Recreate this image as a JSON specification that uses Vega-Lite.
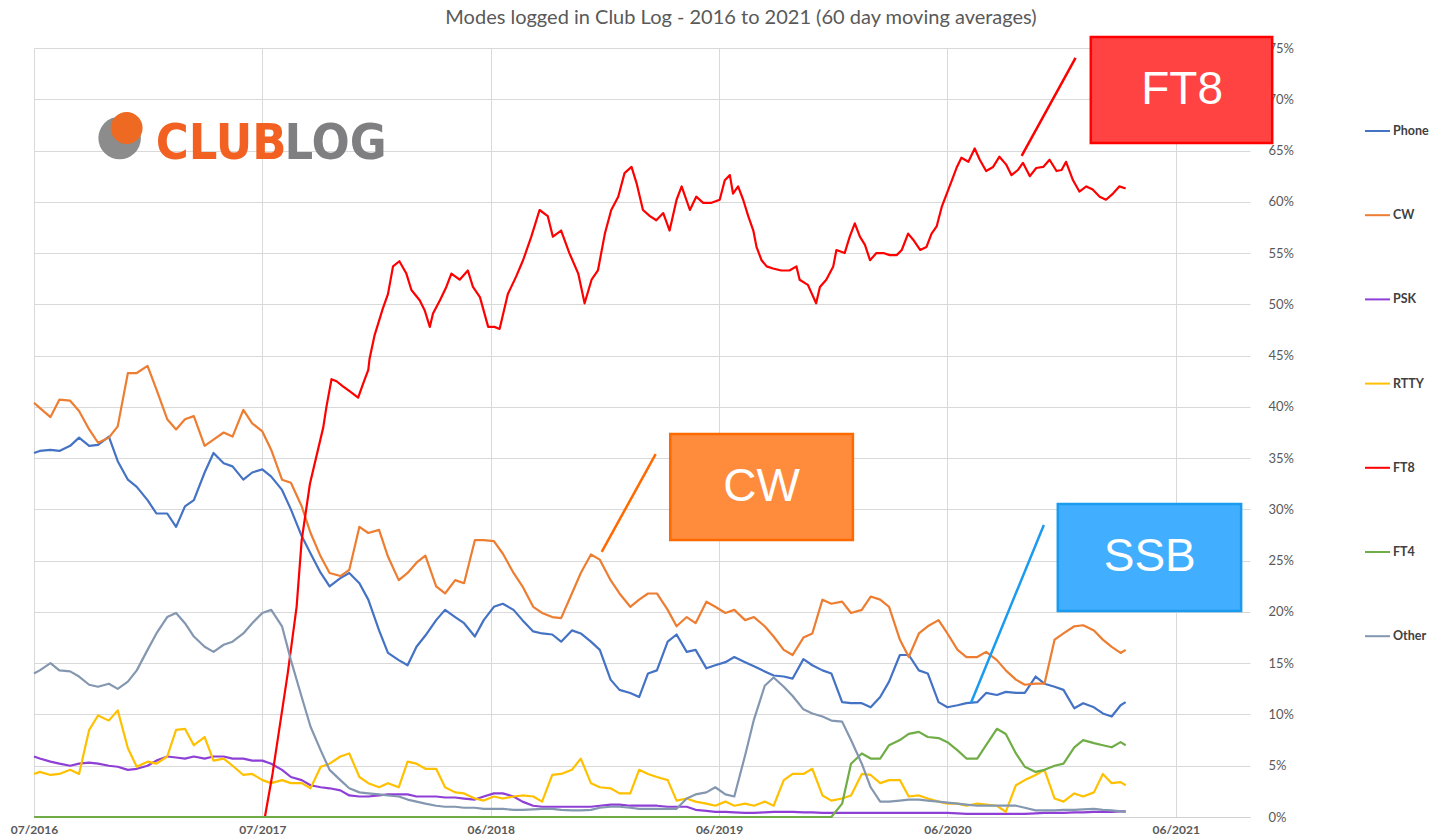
{
  "$schema": "https://vega.github.io/schema/vega-lite/v6.json",
  "width": 1216,
  "height": 769,
  "autosize": {"type": "none"},
  "padding": {"left": 34, "top": 48, "right": 186, "bottom": 23},
  "background": "white",
  "config": {"view": {"stroke": null}, "font": "Lato"},
  "title": {
    "text": "Modes logged in Club Log - 2016 to 2021 (60 day moving averages)",
    "font": "Lato", "fontSize": 20, "fontWeight": "normal", "color": "#595959",
    "anchor": "middle", "frame": "group", "dx": 99, "offset": 8
  },
  "datasets": {
    "modes": [
      {"d":"2016-07-06","Phone":35.5,"CW":40.4,"PSK":5.9,"RTTY":4.2,"FT4":0,"Other":14.0},
      {"d":"2016-07-15","Phone":35.7,"CW":39.9,"PSK":5.7,"RTTY":4.4,"FT4":0,"Other":14.3},
      {"d":"2016-08-01","Phone":35.8,"CW":39.0,"PSK":5.4,"RTTY":4.1,"FT4":0,"Other":15.0},
      {"d":"2016-08-15","Phone":35.7,"CW":40.7,"PSK":5.2,"RTTY":4.2,"FT4":0,"Other":14.3},
      {"d":"2016-09-01","Phone":36.2,"CW":40.6,"PSK":5.0,"RTTY":4.6,"FT4":0,"Other":14.2},
      {"d":"2016-09-15","Phone":37.0,"CW":39.6,"PSK":5.2,"RTTY":4.2,"FT4":0,"Other":13.7},
      {"d":"2016-10-01","Phone":36.2,"CW":37.8,"PSK":5.3,"RTTY":8.5,"FT4":0,"Other":12.9},
      {"d":"2016-10-15","Phone":36.3,"CW":36.5,"PSK":5.2,"RTTY":9.9,"FT4":0,"Other":12.7},
      {"d":"2016-11-01","Phone":37.1,"CW":37.0,"PSK":5.0,"RTTY":9.4,"FT4":0,"Other":13.0},
      {"d":"2016-11-15","Phone":34.7,"CW":38.1,"PSK":4.9,"RTTY":10.4,"FT4":0,"Other":12.5},
      {"d":"2016-12-01","Phone":32.9,"CW":43.3,"PSK":4.6,"RTTY":6.7,"FT4":0,"Other":13.2},
      {"d":"2016-12-15","Phone":32.2,"CW":43.3,"PSK":4.7,"RTTY":4.9,"FT4":0,"Other":14.3},
      {"d":"2017-01-01","Phone":30.9,"CW":44.0,"PSK":5.0,"RTTY":5.4,"FT4":0,"Other":16.3},
      {"d":"2017-01-15","Phone":29.6,"CW":41.7,"PSK":5.5,"RTTY":5.2,"FT4":0,"Other":17.9},
      {"d":"2017-02-01","Phone":29.6,"CW":38.8,"PSK":5.9,"RTTY":5.9,"FT4":0,"Other":19.5},
      {"d":"2017-02-15","Phone":28.3,"CW":37.8,"PSK":5.8,"RTTY":8.5,"FT4":0,"Other":19.9},
      {"d":"2017-03-01","Phone":30.3,"CW":38.8,"PSK":5.7,"RTTY":8.6,"FT4":0,"Other":18.9},
      {"d":"2017-03-15","Phone":30.9,"CW":39.1,"PSK":5.9,"RTTY":7.0,"FT4":0,"Other":17.6},
      {"d":"2017-04-01","Phone":33.6,"CW":36.2,"PSK":5.7,"RTTY":7.8,"FT4":0,"Other":16.6},
      {"d":"2017-04-15","Phone":35.5,"CW":36.8,"PSK":5.9,"RTTY":5.5,"FT4":0,"Other":16.1},
      {"d":"2017-05-01","Phone":34.5,"CW":37.5,"PSK":5.9,"RTTY":5.7,"FT4":0,"Other":16.8},
      {"d":"2017-05-15","Phone":34.2,"CW":37.1,"PSK":5.7,"RTTY":5.0,"FT4":0,"Other":17.1},
      {"d":"2017-06-01","Phone":32.9,"CW":39.7,"PSK":5.7,"RTTY":4.1,"FT4":0,"Other":17.9},
      {"d":"2017-06-15","Phone":33.6,"CW":38.4,"PSK":5.5,"RTTY":4.2,"FT4":0,"Other":18.9},
      {"d":"2017-07-01","Phone":33.9,"CW":37.6,"PSK":5.5,"RTTY":3.6,"FT4":0,"Other":19.9},
      {"d":"2017-07-15","Phone":33.2,"CW":35.8,"PSK":5.2,"RTTY":3.3,"FT4":0,"Other":20.2},
      {"d":"2017-08-01","Phone":31.9,"CW":32.9,"PSK":4.6,"RTTY":3.6,"FT4":0,"Other":18.6},
      {"d":"2017-08-15","Phone":30.0,"CW":32.6,"PSK":3.9,"RTTY":3.3,"FT4":0,"Other":15.3},
      {"d":"2017-09-01","Phone":27.4,"CW":30.3,"PSK":3.6,"RTTY":3.3,"FT4":0,"Other":11.7},
      {"d":"2017-09-15","Phone":25.7,"CW":27.7,"PSK":3.1,"RTTY":2.8,"FT4":0,"Other":8.8},
      {"d":"2017-10-01","Phone":23.8,"CW":25.4,"PSK":2.9,"RTTY":4.9,"FT4":0,"Other":6.5},
      {"d":"2017-10-15","Phone":22.5,"CW":23.8,"PSK":2.8,"RTTY":5.2,"FT4":0,"Other":4.6},
      {"d":"2017-11-01","Phone":23.3,"CW":23.5,"PSK":2.6,"RTTY":5.9,"FT4":0,"Other":3.6},
      {"d":"2017-11-15","Phone":23.8,"CW":24.1,"PSK":2.1,"RTTY":6.2,"FT4":0,"Other":2.8},
      {"d":"2017-12-01","Phone":22.8,"CW":28.3,"PSK":2.0,"RTTY":3.9,"FT4":0,"Other":2.4},
      {"d":"2017-12-15","Phone":21.2,"CW":27.7,"PSK":2.0,"RTTY":3.3,"FT4":0,"Other":2.3},
      {"d":"2018-01-01","Phone":18.2,"CW":28.0,"PSK":2.1,"RTTY":2.9,"FT4":0,"Other":2.2},
      {"d":"2018-01-15","Phone":16.0,"CW":25.4,"PSK":2.2,"RTTY":3.3,"FT4":0,"Other":2.1},
      {"d":"2018-02-01","Phone":15.3,"CW":23.1,"PSK":2.2,"RTTY":2.9,"FT4":0,"Other":2.0},
      {"d":"2018-02-15","Phone":14.8,"CW":23.8,"PSK":2.2,"RTTY":5.4,"FT4":0,"Other":1.7},
      {"d":"2018-03-01","Phone":16.6,"CW":24.8,"PSK":2.0,"RTTY":5.2,"FT4":0,"Other":1.5},
      {"d":"2018-03-15","Phone":17.7,"CW":25.5,"PSK":2.0,"RTTY":4.7,"FT4":0,"Other":1.3},
      {"d":"2018-04-01","Phone":19.2,"CW":22.5,"PSK":2.0,"RTTY":4.7,"FT4":0,"Other":1.1},
      {"d":"2018-04-15","Phone":20.2,"CW":21.8,"PSK":1.9,"RTTY":2.9,"FT4":0,"Other":1.0},
      {"d":"2018-05-01","Phone":19.5,"CW":23.1,"PSK":1.9,"RTTY":2.4,"FT4":0,"Other":1.0},
      {"d":"2018-05-15","Phone":18.9,"CW":22.8,"PSK":1.8,"RTTY":2.3,"FT4":0,"Other":0.9},
      {"d":"2018-06-01","Phone":17.6,"CW":27.0,"PSK":1.7,"RTTY":1.8,"FT4":0,"Other":0.9},
      {"d":"2018-06-15","Phone":19.2,"CW":27.0,"PSK":2.0,"RTTY":1.6,"FT4":0,"Other":0.8},
      {"d":"2018-07-01","Phone":20.5,"CW":26.9,"PSK":2.3,"RTTY":2.0,"FT4":0,"Other":0.8},
      {"d":"2018-07-15","Phone":20.8,"CW":25.7,"PSK":2.3,"RTTY":1.8,"FT4":0,"Other":0.8},
      {"d":"2018-08-01","Phone":20.2,"CW":23.8,"PSK":2.0,"RTTY":2.0,"FT4":0,"Other":0.7},
      {"d":"2018-08-15","Phone":19.2,"CW":22.5,"PSK":1.5,"RTTY":2.1,"FT4":0,"Other":0.7},
      {"d":"2018-09-01","Phone":18.1,"CW":20.5,"PSK":1.1,"RTTY":2.0,"FT4":0,"Other":0.75},
      {"d":"2018-09-15","Phone":17.9,"CW":19.9,"PSK":1.0,"RTTY":1.5,"FT4":0,"Other":0.8},
      {"d":"2018-10-01","Phone":17.8,"CW":19.5,"PSK":1.0,"RTTY":4.1,"FT4":0,"Other":0.8},
      {"d":"2018-10-15","Phone":17.1,"CW":19.4,"PSK":1.0,"RTTY":4.2,"FT4":0,"Other":0.7},
      {"d":"2018-11-01","Phone":18.2,"CW":21.8,"PSK":1.0,"RTTY":4.6,"FT4":0,"Other":0.65},
      {"d":"2018-11-15","Phone":17.9,"CW":23.8,"PSK":1.0,"RTTY":5.7,"FT4":0,"Other":0.65},
      {"d":"2018-12-01","Phone":17.1,"CW":25.6,"PSK":1.0,"RTTY":3.3,"FT4":0,"Other":0.7},
      {"d":"2018-12-15","Phone":16.3,"CW":25.1,"PSK":1.1,"RTTY":2.9,"FT4":0,"Other":0.9},
      {"d":"2019-01-01","Phone":13.4,"CW":23.1,"PSK":1.2,"RTTY":2.8,"FT4":0,"Other":1.0},
      {"d":"2019-01-15","Phone":12.4,"CW":21.8,"PSK":1.2,"RTTY":2.3,"FT4":0,"Other":1.0},
      {"d":"2019-02-01","Phone":12.1,"CW":20.5,"PSK":1.1,"RTTY":2.3,"FT4":0,"Other":0.9},
      {"d":"2019-02-15","Phone":11.7,"CW":21.2,"PSK":1.1,"RTTY":4.6,"FT4":0,"Other":0.8},
      {"d":"2019-03-01","Phone":14.0,"CW":21.8,"PSK":1.1,"RTTY":4.2,"FT4":0,"Other":0.8},
      {"d":"2019-03-15","Phone":14.3,"CW":21.8,"PSK":1.1,"RTTY":3.9,"FT4":0,"Other":0.8},
      {"d":"2019-04-01","Phone":17.1,"CW":20.2,"PSK":1.0,"RTTY":3.6,"FT4":0,"Other":0.8},
      {"d":"2019-04-15","Phone":17.8,"CW":18.6,"PSK":1.0,"RTTY":1.6,"FT4":0,"Other":0.8},
      {"d":"2019-05-01","Phone":16.1,"CW":19.5,"PSK":1.0,"RTTY":1.8,"FT4":0,"Other":1.8},
      {"d":"2019-05-15","Phone":16.3,"CW":18.9,"PSK":0.7,"RTTY":1.5,"FT4":0,"Other":2.2},
      {"d":"2019-06-01","Phone":14.5,"CW":21.0,"PSK":0.6,"RTTY":1.3,"FT4":0,"Other":2.4},
      {"d":"2019-06-15","Phone":14.8,"CW":20.5,"PSK":0.5,"RTTY":1.1,"FT4":0,"Other":2.9},
      {"d":"2019-07-01","Phone":15.1,"CW":19.9,"PSK":0.5,"RTTY":1.5,"FT4":0,"Other":2.2},
      {"d":"2019-07-15","Phone":15.6,"CW":20.2,"PSK":0.45,"RTTY":1.1,"FT4":0,"Other":2.0},
      {"d":"2019-08-01","Phone":15.1,"CW":19.2,"PSK":0.4,"RTTY":1.3,"FT4":0,"Other":6.0},
      {"d":"2019-08-15","Phone":14.7,"CW":19.5,"PSK":0.4,"RTTY":1.1,"FT4":0,"Other":9.5},
      {"d":"2019-09-01","Phone":14.2,"CW":18.6,"PSK":0.45,"RTTY":1.5,"FT4":0,"Other":12.8},
      {"d":"2019-09-15","Phone":13.8,"CW":17.6,"PSK":0.5,"RTTY":1.1,"FT4":0,"Other":13.6},
      {"d":"2019-10-01","Phone":13.7,"CW":16.3,"PSK":0.5,"RTTY":3.6,"FT4":0,"Other":12.7},
      {"d":"2019-10-15","Phone":13.5,"CW":15.8,"PSK":0.5,"RTTY":4.2,"FT4":0,"Other":11.8},
      {"d":"2019-11-01","Phone":15.4,"CW":17.5,"PSK":0.45,"RTTY":4.2,"FT4":0,"Other":10.5},
      {"d":"2019-11-15","Phone":14.8,"CW":17.9,"PSK":0.45,"RTTY":4.7,"FT4":0,"Other":10.1},
      {"d":"2019-12-01","Phone":14.3,"CW":21.2,"PSK":0.4,"RTTY":2.1,"FT4":0,"Other":9.8},
      {"d":"2019-12-15","Phone":14.0,"CW":20.8,"PSK":0.4,"RTTY":1.6,"FT4":0,"Other":9.4},
      {"d":"2020-01-01","Phone":11.2,"CW":21.0,"PSK":0.4,"RTTY":1.8,"FT4":1.3,"Other":9.3},
      {"d":"2020-01-15","Phone":11.1,"CW":19.9,"PSK":0.4,"RTTY":2.1,"FT4":5.2,"Other":7.5},
      {"d":"2020-02-01","Phone":11.1,"CW":20.2,"PSK":0.4,"RTTY":4.2,"FT4":6.2,"Other":5.2},
      {"d":"2020-02-15","Phone":10.7,"CW":21.5,"PSK":0.4,"RTTY":4.1,"FT4":5.7,"Other":2.9},
      {"d":"2020-03-01","Phone":11.7,"CW":21.2,"PSK":0.4,"RTTY":3.3,"FT4":5.7,"Other":1.5},
      {"d":"2020-03-15","Phone":13.2,"CW":20.5,"PSK":0.4,"RTTY":3.6,"FT4":7.0,"Other":1.5},
      {"d":"2020-04-01","Phone":15.8,"CW":17.3,"PSK":0.4,"RTTY":3.6,"FT4":7.5,"Other":1.6},
      {"d":"2020-04-15","Phone":15.8,"CW":15.6,"PSK":0.4,"RTTY":2.0,"FT4":8.1,"Other":1.7},
      {"d":"2020-05-01","Phone":14.3,"CW":17.9,"PSK":0.4,"RTTY":2.1,"FT4":8.3,"Other":1.7},
      {"d":"2020-05-15","Phone":14.0,"CW":18.6,"PSK":0.4,"RTTY":1.8,"FT4":7.8,"Other":1.6},
      {"d":"2020-06-01","Phone":11.2,"CW":19.2,"PSK":0.4,"RTTY":1.5,"FT4":7.7,"Other":1.5},
      {"d":"2020-06-15","Phone":10.7,"CW":17.9,"PSK":0.4,"RTTY":1.3,"FT4":7.3,"Other":1.4},
      {"d":"2020-07-01","Phone":10.9,"CW":16.3,"PSK":0.35,"RTTY":1.3,"FT4":6.5,"Other":1.3},
      {"d":"2020-07-15","Phone":11.1,"CW":15.6,"PSK":0.3,"RTTY":1.1,"FT4":5.7,"Other":1.2},
      {"d":"2020-08-01","Phone":11.2,"CW":15.6,"PSK":0.3,"RTTY":1.3,"FT4":5.7,"Other":1.1},
      {"d":"2020-08-15","Phone":12.1,"CW":16.1,"PSK":0.3,"RTTY":1.2,"FT4":7.0,"Other":1.1},
      {"d":"2020-09-01","Phone":11.9,"CW":15.3,"PSK":0.3,"RTTY":1.1,"FT4":8.6,"Other":1.1},
      {"d":"2020-09-15","Phone":12.2,"CW":14.3,"PSK":0.3,"RTTY":0.5,"FT4":8.1,"Other":1.1},
      {"d":"2020-10-01","Phone":12.1,"CW":13.4,"PSK":0.3,"RTTY":3.1,"FT4":6.2,"Other":1.1},
      {"d":"2020-10-15","Phone":12.1,"CW":12.9,"PSK":0.3,"RTTY":3.6,"FT4":4.9,"Other":0.9},
      {"d":"2020-11-01","Phone":13.7,"CW":13.0,"PSK":0.35,"RTTY":4.1,"FT4":4.4,"Other":0.65},
      {"d":"2020-11-15","Phone":13.0,"CW":13.0,"PSK":0.4,"RTTY":4.6,"FT4":4.6,"Other":0.65},
      {"d":"2020-12-01","Phone":12.7,"CW":17.3,"PSK":0.4,"RTTY":1.8,"FT4":5.0,"Other":0.65},
      {"d":"2020-12-15","Phone":12.4,"CW":17.9,"PSK":0.4,"RTTY":1.5,"FT4":5.2,"Other":0.7},
      {"d":"2021-01-01","Phone":10.6,"CW":18.6,"PSK":0.45,"RTTY":2.3,"FT4":6.8,"Other":0.7},
      {"d":"2021-01-15","Phone":11.1,"CW":18.7,"PSK":0.45,"RTTY":2.0,"FT4":7.5,"Other":0.75},
      {"d":"2021-02-01","Phone":10.7,"CW":18.2,"PSK":0.5,"RTTY":2.4,"FT4":7.2,"Other":0.8},
      {"d":"2021-02-15","Phone":10.1,"CW":17.3,"PSK":0.5,"RTTY":4.2,"FT4":7.0,"Other":0.7},
      {"d":"2021-03-01","Phone":9.8,"CW":16.6,"PSK":0.5,"RTTY":3.3,"FT4":6.8,"Other":0.65},
      {"d":"2021-03-15","Phone":10.9,"CW":16.0,"PSK":0.55,"RTTY":3.4,"FT4":7.3,"Other":0.55},
      {"d":"2021-03-23","Phone":11.2,"CW":16.3,"PSK":0.55,"RTTY":3.1,"FT4":7.0,"Other":0.5}
    ],
    "ft8": [
      {"d":"2016-07-06","v":0},{"d":"2017-07-05","v":0},{"d":"2017-07-17","v":4.2},{"d":"2017-08-10","v":14},
      {"d":"2017-08-24","v":20.5},{"d":"2017-09-01","v":27},{"d":"2017-09-14","v":32.5},{"d":"2017-10-05","v":38},
      {"d":"2017-10-10","v":40},{"d":"2017-10-18","v":42.7},{"d":"2017-10-26","v":42.5},{"d":"2017-11-05","v":42.0},
      {"d":"2017-11-16","v":41.5},{"d":"2017-11-29","v":40.9},{"d":"2017-12-07","v":42.3},{"d":"2017-12-15","v":43.6},
      {"d":"2017-12-17","v":44.7},{"d":"2017-12-25","v":47.0},{"d":"2018-01-07","v":49.6},{"d":"2018-01-15","v":51.0},
      {"d":"2018-01-23","v":53.7},{"d":"2018-02-02","v":54.2},{"d":"2018-02-13","v":53.0},{"d":"2018-02-21","v":51.4},
      {"d":"2018-03-06","v":50.4},{"d":"2018-03-14","v":49.4},{"d":"2018-03-22","v":47.8},{"d":"2018-03-27","v":49.1},
      {"d":"2018-04-07","v":50.4},{"d":"2018-04-17","v":51.7},{"d":"2018-04-25","v":53.0},{"d":"2018-05-08","v":52.4},
      {"d":"2018-05-21","v":53.3},{"d":"2018-05-29","v":51.7},{"d":"2018-06-09","v":50.7},{"d":"2018-06-22","v":47.8},
      {"d":"2018-07-02","v":47.8},{"d":"2018-07-10","v":47.6},{"d":"2018-07-23","v":51.0},{"d":"2018-08-05","v":52.7},
      {"d":"2018-08-16","v":54.3},{"d":"2018-08-29","v":56.6},{"d":"2018-09-11","v":59.2},{"d":"2018-09-24","v":58.6},
      {"d":"2018-10-02","v":56.6},{"d":"2018-10-15","v":57.2},{"d":"2018-10-28","v":55.0},{"d":"2018-11-11","v":53.0},
      {"d":"2018-11-21","v":50.1},{"d":"2018-12-02","v":52.4},{"d":"2018-12-12","v":53.3},{"d":"2018-12-23","v":56.9},
      {"d":"2019-01-02","v":59.2},{"d":"2019-01-13","v":60.5},{"d":"2019-01-23","v":62.8},{"d":"2019-02-03","v":63.4},
      {"d":"2019-02-11","v":61.8},{"d":"2019-02-21","v":59.2},{"d":"2019-03-04","v":58.6},{"d":"2019-03-14","v":58.2},
      {"d":"2019-03-25","v":58.9},{"d":"2019-04-04","v":57.2},{"d":"2019-04-15","v":60.2},{"d":"2019-04-23","v":61.5},
      {"d":"2019-05-06","v":59.2},{"d":"2019-05-16","v":60.5},{"d":"2019-05-27","v":59.9},{"d":"2019-06-09","v":59.9},
      {"d":"2019-06-22","v":60.2},{"d":"2019-06-30","v":62.1},{"d":"2019-07-08","v":62.6},{"d":"2019-07-13","v":60.8},
      {"d":"2019-07-21","v":61.5},{"d":"2019-07-29","v":60.2},{"d":"2019-08-06","v":58.6},{"d":"2019-08-14","v":57.2},
      {"d":"2019-08-19","v":55.6},{"d":"2019-08-27","v":54.3},{"d":"2019-09-04","v":53.7},{"d":"2019-09-14","v":53.5},
      {"d":"2019-09-27","v":53.3},{"d":"2019-10-10","v":53.3},{"d":"2019-10-21","v":53.7},{"d":"2019-10-26","v":52.4},
      {"d":"2019-11-08","v":51.9},{"d":"2019-11-21","v":50.1},{"d":"2019-11-27","v":51.7},{"d":"2019-12-07","v":52.4},
      {"d":"2019-12-18","v":53.7},{"d":"2019-12-23","v":55.3},{"d":"2020-01-05","v":55.0},{"d":"2020-01-13","v":56.6},
      {"d":"2020-01-21","v":57.9},{"d":"2020-01-29","v":56.6},{"d":"2020-02-06","v":55.8},{"d":"2020-02-14","v":54.3},
      {"d":"2020-02-24","v":55.0},{"d":"2020-03-06","v":55.0},{"d":"2020-03-16","v":54.8},{"d":"2020-03-27","v":54.8},
      {"d":"2020-04-04","v":55.3},{"d":"2020-04-14","v":56.9},{"d":"2020-04-22","v":56.3},{"d":"2020-05-03","v":55.3},
      {"d":"2020-05-13","v":55.6},{"d":"2020-05-21","v":56.9},{"d":"2020-05-29","v":57.6},{"d":"2020-06-06","v":59.5},
      {"d":"2020-06-14","v":60.8},{"d":"2020-06-22","v":62.1},{"d":"2020-06-30","v":63.4},{"d":"2020-07-07","v":64.3},
      {"d":"2020-07-18","v":63.9},{"d":"2020-07-28","v":65.2},{"d":"2020-08-05","v":64.1},{"d":"2020-08-15","v":63.0},
      {"d":"2020-08-26","v":63.4},{"d":"2020-09-05","v":64.4},{"d":"2020-09-16","v":63.6},{"d":"2020-09-24","v":62.6},
      {"d":"2020-10-04","v":63.1},{"d":"2020-10-12","v":63.8},{"d":"2020-10-23","v":62.5},{"d":"2020-11-02","v":63.3},
      {"d":"2020-11-13","v":63.4},{"d":"2020-11-23","v":64.1},{"d":"2020-12-04","v":63.0},{"d":"2020-12-12","v":63.1},
      {"d":"2020-12-19","v":63.9},{"d":"2020-12-30","v":62.1},{"d":"2021-01-09","v":61.0},{"d":"2021-01-20","v":61.5},
      {"d":"2021-01-30","v":61.2},{"d":"2021-02-10","v":60.5},{"d":"2021-02-20","v":60.2},{"d":"2021-03-03","v":60.8},
      {"d":"2021-03-13","v":61.5},{"d":"2021-03-23","v":61.3}
    ],
    "boxes": [
      {"label":"FT8","d":"2021-01-27","d2":"2021-11-09","v":76.08,"v2":65.74},
      {"label":"CW","d":"2019-04-05","d2":"2020-01-18","v":37.35,"v2":27.02},
      {"label":"SSB","d":"2020-12-06","d2":"2021-09-21","v":30.53,"v2":20.09}
    ],
    "links": [
      {"label":"FT8","d":"2021-01-03","v":74.03,"d2":"2020-10-10","v2":64.47},
      {"label":"CW","d":"2019-03-13","v":35.4,"d2":"2018-12-18","v2":25.85},
      {"label":"SSB","d":"2020-11-14","v":28.48,"d2":"2020-07-22","v2":11.12}
    ],
    "labels": [
      {"label":"FT8","d":"2021-06-20","v":70.9},
      {"label":"CW","d":"2019-08-27","v":32.19},
      {"label":"SSB","d":"2021-04-30","v":25.31}
    ]
  },
  "encoding": {
    "x": {
      "field": "d", "type": "temporal",
      "scale": {"type": "utc", "domain": [{"year":2016,"month":7,"date":6,"utc":true},{"year":2021,"month":10,"date":5,"utc":true}]},
      "axis": {
        "orient": "bottom", "title": null,
        "values": [{"year":2016,"month":7,"date":6,"utc":true},{"year":2017,"month":7,"date":1,"utc":true},{"year":2018,"month":6,"date":26,"utc":true},{"year":2019,"month":6,"date":21,"utc":true},{"year":2020,"month":6,"date":15,"utc":true},{"year":2021,"month":6,"date":10,"utc":true}],
        "labelExpr": "utcFormat(datum.value, '%m/%Y')",
        "grid": true, "gridColor": "#D9D9D9", "gridWidth": 1,
        "ticks": false, "domain": true, "domainColor": "#D0D0D0",
        "labelFont": "Lato", "labelFontWeight": "bold", "labelFontSize": 12, "labelColor": "#595959",
        "labelPadding": 7, "labelFlush": false, "labelOverlap": false
      }
    },
    "y": {
      "field": "v", "type": "quantitative",
      "scale": {"domain": [0, 75], "nice": false, "zero": true},
      "axis": {
        "orient": "right", "title": null,
        "values": [0,5,10,15,20,25,30,35,40,45,50,55,60,65,70,75],
        "labelExpr": "datum.value + '%'",
        "grid": true, "gridColor": "#D9D9D9", "gridWidth": 1,
        "ticks": false, "domain": false,
        "labelFont": "Lato", "labelFontSize": 13, "labelColor": "#595959", "labelPadding": 18
      }
    }
  },
  "layer": [
    {
      "data": {"name": "modes"},
      "transform": [{"fold": ["Phone","CW","PSK","RTTY"], "as": ["mode","v"]}],
      "mark": {"type": "line", "strokeWidth": 2.2, "strokeJoin": "round"},
      "encoding": {
        "color": {
          "field": "mode", "type": "nominal",
          "scale": {"domain": ["Phone","CW","PSK","RTTY","FT8","FT4","Other"], "range": ["#4472C4","#ED7D31","#8E3FD6","#FFC000","#FF0000","#70AD47","#8497B0"]},
          "legend": {
            "title": null, "orient": "none", "legendX": 1330, "legendY": 69.5, "direction": "vertical",
            "symbolType": "stroke", "symbolSize": 625, "symbolStrokeWidth": 2,
            "rowPadding": 64.2, "labelOffset": 2,
            "labelFont": "Lato", "labelFontWeight": "bold", "labelFontSize": 12.5, "labelColor": "#404040"
          }
        }
      }
    },
    {
      "data": {"name": "ft8"},
      "mark": {"type": "line", "strokeWidth": 2.2, "strokeJoin": "round"},
      "encoding": {"color": {"datum": "FT8", "type": "nominal", "legend": null}}
    },
    {
      "data": {"name": "modes"},
      "transform": [{"fold": ["FT4","Other"], "as": ["mode","v"]}],
      "mark": {"type": "line", "strokeWidth": 2.2, "strokeJoin": "round"},
      "encoding": {"color": {"field": "mode", "type": "nominal", "legend": null}}
    },
    {
      "data": {"name": "links"},
      "mark": {"type": "rule", "strokeWidth": 2.5},
      "encoding": {
        "x2": {"field": "d2"},
        "y2": {"field": "v2"},
        "stroke": {"field": "label", "type": "nominal", "scale": {"domain": ["FT8","CW","SSB"], "range": ["#FF0000","#FF6A00","#1A9BF0"]}, "legend": null}
      }
    },
    {
      "data": {"name": "boxes"},
      "mark": {"type": "rect", "strokeWidth": 2.5},
      "encoding": {
        "x2": {"field": "d2"},
        "y2": {"field": "v2"},
        "fill": {"field": "label", "type": "nominal", "scale": {"domain": ["FT8","CW","SSB"], "range": ["#FF4242","#FF8B3D","#41AEFF"]}, "legend": null},
        "stroke": {"field": "label", "type": "nominal", "legend": null}
      }
    },
    {
      "data": {"name": "labels"},
      "mark": {"type": "text", "font": "Liberation Sans", "fontSize": 46, "color": "white", "align": "center", "baseline": "middle"},
      "encoding": {"text": {"field": "label"}}
    },
    {
      "data": {"values": [{"d":"2016-11-18","v":66.22}]},
      "mark": {"type": "point", "shape": "circle", "filled": true, "opacity": 1, "color": "#8C8C8C", "size": 1810}
    },
    {
      "data": {"values": [{"d":"2016-11-29","v":67.2}]},
      "mark": {"type": "point", "shape": "circle", "filled": true, "opacity": 1, "color": "#EE6A22", "size": 1018}
    },
    {
      "data": {"values": [{"d":"2017-08-08","v":64.18,"t":"CLUB"}]},
      "mark": {"type": "text", "font": "DejaVu Sans Condensed", "fontWeight": "bold", "fontSize": 50, "color": "#F26122", "align": "right", "baseline": "alphabetic"},
      "encoding": {"text": {"field": "t"}}
    },
    {
      "data": {"values": [{"d":"2017-08-05","v":64.18,"t":"LOG"}]},
      "mark": {"type": "text", "font": "DejaVu Sans Condensed", "fontWeight": "bold", "fontSize": 50, "color": "#7F7F82", "align": "left", "baseline": "alphabetic"},
      "encoding": {"text": {"field": "t"}}
    }
  ]
}
